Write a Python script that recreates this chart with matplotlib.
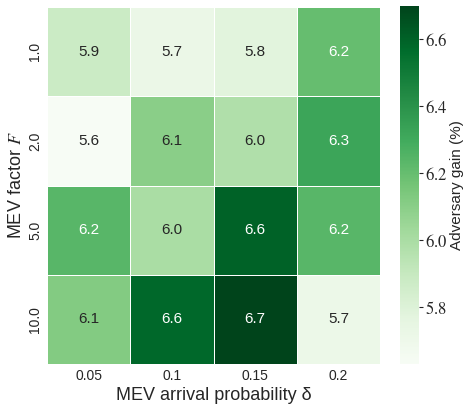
import matplotlib
matplotlib.use("Agg")
import matplotlib.pyplot as plt
import numpy as np
import pandas as pd
import seaborn as sns
from matplotlib.ticker import FuncFormatter

# data (rows: MEV factor F, cols: arrival probability delta)
mev_factor = ["1.0", "2.0", "5.0", "10.0"]
arrival_prob = ["0.05", "0.1", "0.15", "0.2"]
row_f1 = [5.88, 5.72, 5.78, 6.20]
row_f2 = [5.63, 6.10, 5.98, 6.32]
row_f5 = [6.24, 6.00, 6.60, 6.24]
row_f10 = [6.12, 6.58, 6.70, 5.71]
cbar_ticks = [5.8, 6.0, 6.2, 6.4, 6.6]

gain = pd.DataFrame([row_f1, row_f2, row_f5, row_f10], index=mev_factor, columns=arrival_prob)

sns.set_style("white")
plt.rcParams["font.family"] = ["Liberation Sans", "DejaVu Sans"]
plt.rcParams["mathtext.fontset"] = "stix"

fig = plt.figure(figsize=(4.69, 4.13), dpi=100)
ax = fig.add_axes([47 / 469, 49 / 413, 333 / 469, 357 / 413])
cax = fig.add_axes([400 / 469, 49 / 413, 19 / 469, 358 / 413])

sns.heatmap(gain, ax=ax, cbar_ax=cax, cmap="Greens", annot=True, fmt=".1f",
            linewidths=0.5, linecolor="white", annot_kws={"size": 11})

ax.set_xlabel("MEV arrival probability δ", fontsize=13, labelpad=3)
ax.set_ylabel("MEV factor $F$", fontsize=13, labelpad=2)
ax.tick_params(axis="both", length=0, labelsize=10)
ax.set_yticklabels(mev_factor, rotation=90, va="center")
ax.set_xticklabels(arrival_prob, rotation=0)

# colorbar numbers are in a serif face in the original -> stix roman via mathtext
cbar = ax.collections[0].colorbar
cbar.set_ticks(cbar_ticks)
cbar.formatter = FuncFormatter(lambda v, p: r"$\mathrm{%.1f}$" % v)
cbar.update_ticks()
cax.tick_params(length=3, width=0.8, pad=1, labelsize=12)
cbar.set_label("Adversary gain (%)", fontsize=11, labelpad=2)
cbar.outline.set_visible(False)

fig.savefig("out.png", dpi=100)
